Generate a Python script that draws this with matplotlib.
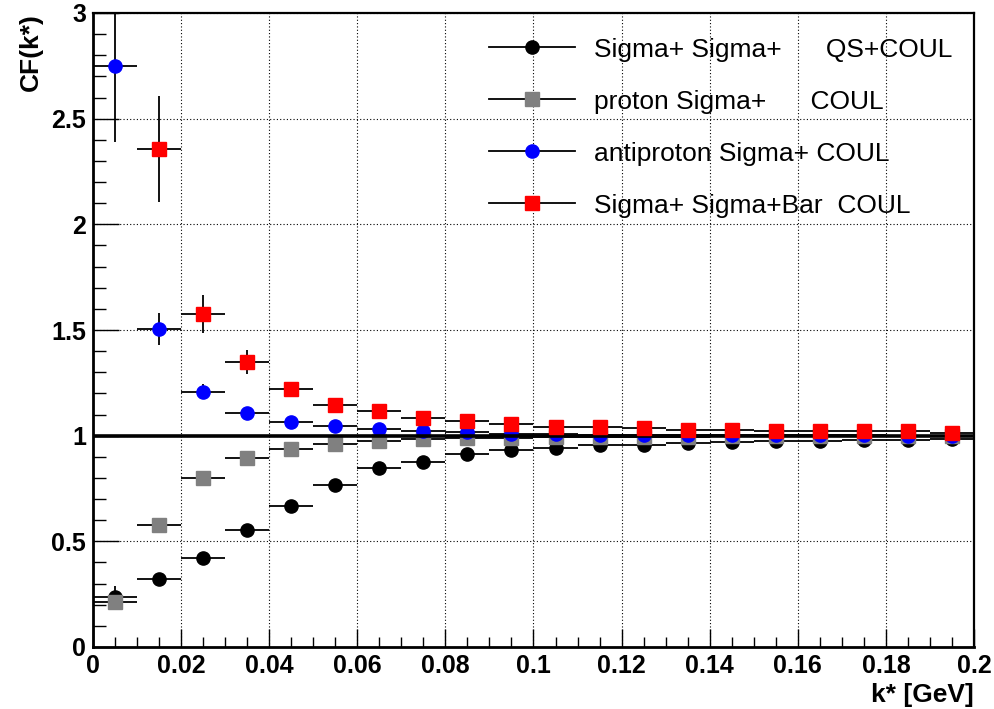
import numpy as np
import matplotlib
matplotlib.use("Agg")
import matplotlib.pyplot as plt
from matplotlib.lines import Line2D
from matplotlib.ticker import MultipleLocator, FuncFormatter

plt.rcParams["font.family"] = ["Liberation Sans", "DejaVu Sans"]

# bin centres in k* [GeV], half bin width used as x error
k_star = [0.005, 0.015, 0.025, 0.035, 0.045, 0.055, 0.065, 0.075, 0.085, 0.095,
          0.105, 0.115, 0.125, 0.135, 0.145, 0.155, 0.165, 0.175, 0.185, 0.195]
half_bin = 0.005

# Sigma+ Sigma+  QS+COUL
cf_ss = [0.235, 0.321, 0.420, 0.554, 0.667, 0.767, 0.846, 0.875, 0.912, 0.932,
         0.943, 0.956, 0.957, 0.964, 0.969, 0.973, 0.977, 0.979, 0.981, 0.985]
err_ss = [0.055, 0.025, 0.020, 0.017, 0.015, 0.013, 0.011, 0.010, 0.009, 0.008,
          0.007, 0.007, 0.006, 0.006, 0.005, 0.005, 0.005, 0.004, 0.004, 0.004]

# proton Sigma+  COUL
cf_ps = [0.211, 0.578, 0.800, 0.895, 0.938, 0.961, 0.975, 0.983, 0.988, 0.991,
         0.993, 0.994, 0.995, 0.996, 0.997, 0.997, 0.998, 0.998, 0.999, 0.999]
err_ps = [0.030, 0.020, 0.015, 0.012, 0.010, 0.009, 0.008, 0.007, 0.006, 0.006,
          0.005, 0.005, 0.005, 0.004, 0.004, 0.004, 0.004, 0.003, 0.003, 0.003]

# antiproton Sigma+  COUL
cf_aps = [2.750, 1.505, 1.208, 1.109, 1.066, 1.044, 1.033, 1.024, 1.015, 1.010,
          1.007, 1.005, 1.004, 1.003, 1.002, 1.002, 1.001, 1.001, 1.000, 1.000]
err_aps = [0.360, 0.077, 0.035, 0.022, 0.016, 0.013, 0.011, 0.010, 0.009, 0.008,
           0.007, 0.007, 0.006, 0.006, 0.005, 0.005, 0.005, 0.004, 0.004, 0.004]

# Sigma+ Sigma+Bar  COUL (first bin off scale)
cf_ssbar = [np.nan, 2.357, 1.576, 1.349, 1.222, 1.146, 1.118, 1.083, 1.069, 1.055,
            1.042, 1.042, 1.036, 1.026, 1.026, 1.020, 1.020, 1.020, 1.020, 1.011]
err_ssbar = [np.nan, 0.250, 0.090, 0.055, 0.030, 0.022, 0.018, 0.015, 0.012, 0.010,
             0.009, 0.008, 0.007, 0.007, 0.006, 0.006, 0.005, 0.005, 0.005, 0.005]

series = [
    ("Sigma+ Sigma+      QS+COUL", cf_ss, err_ss, "o", "black"),
    ("proton Sigma+      COUL", cf_ps, err_ps, "s", "#808080"),
    ("antiproton Sigma+ COUL", cf_aps, err_aps, "o", "blue"),
    ("Sigma+ Sigma+Bar  COUL", cf_ssbar, err_ssbar, "s", "red"),
]

fig = plt.figure(figsize=(9.95, 7.09), dpi=100)
ax = fig.add_axes([93 / 995, 1 - 647 / 709, 881 / 995, 634 / 709])

handles = []
for i, (label, vals, errs, mk, col) in enumerate(series):
    ms = 9.5 if mk == "o" else 10.5
    z = 3 + i if col != "red" else 8
    ax.errorbar(k_star, vals, xerr=half_bin, yerr=errs, fmt=mk, ms=ms,
                mfc=col, mec=col, ecolor="black", elinewidth=1.3, capsize=0,
                zorder=z)
    handles.append(Line2D([0], [0], color="black", lw=1.3, marker=mk, ms=ms,
                          mfc=col, mec=col, label=label))

ax.axhline(1.0, color="black", lw=2.6, zorder=7)

ax.set_xlim(0, 0.2)
ax.set_ylim(0, 3)
ax.xaxis.set_major_locator(MultipleLocator(0.02))
ax.xaxis.set_minor_locator(MultipleLocator(0.005))
ax.yaxis.set_major_locator(MultipleLocator(0.5))
ax.yaxis.set_minor_locator(MultipleLocator(0.1))
fmt = FuncFormatter(lambda v, p: "%g" % round(v, 4))
ax.xaxis.set_major_formatter(fmt)
ax.yaxis.set_major_formatter(fmt)

ax.tick_params(which="both", direction="in", width=1.0, top=False, right=False)
ax.tick_params(axis="y", which="major", length=19, pad=5, labelsize=18)
ax.tick_params(axis="y", which="minor", length=9.5)
ax.tick_params(axis="x", which="major", length=13, pad=5, labelsize=18)
ax.tick_params(axis="x", which="minor", length=7)
for lab in ax.get_xticklabels() + ax.get_yticklabels():
    lab.set_fontweight("bold")

for side in ["left", "bottom", "top", "right"]:
    ax.spines[side].set_linewidth(1.6)
ax.spines["left"].set_linewidth(2.0)
ax.spines["bottom"].set_linewidth(2.0)

ax.grid(True, which="major", color="black", linestyle=(0, (1, 2)), lw=0.8)
ax.set_axisbelow(True)

ax.set_xlabel("k* [GeV]", fontsize=19, fontweight="bold", ha="right", va="top")
ax.xaxis.set_label_coords(1.0, -0.056)
ax.set_ylabel("CF(k*)", fontsize=19, fontweight="bold", va="center", ha="right")
ax.yaxis.set_label_coords(-0.070, 1.0)

ax.legend(handles=handles, loc="upper left", bbox_to_anchor=(0.449, 0.961),
          frameon=False, fontsize=19, handlelength=3.26, handletextpad=0.72,
          labelspacing=1.06, borderpad=0, borderaxespad=0, numpoints=1)

fig.savefig("out.png", dpi=100)
